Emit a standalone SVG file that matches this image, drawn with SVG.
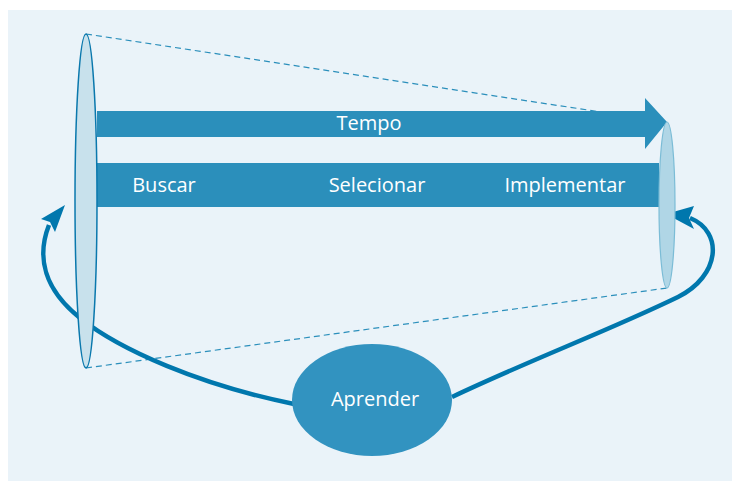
<svg xmlns="http://www.w3.org/2000/svg" width="732" height="481" viewBox="0 0 732 481">
<defs>
<style>
.lbl{font-family:"Open Sans","Noto Sans",sans-serif;font-size:20px;fill:#ffffff}
.bar{fill:#2b8fbb}
.dash{stroke:#2b8fbb;stroke-width:1.2;stroke-dasharray:6 4;fill:none}
.loop{stroke:#0077ad;stroke-width:4.5;fill:none}
.head{fill:#0077ad}
</style>
</defs>
<rect x="8" y="10" width="724" height="471" fill="#eaf3f9"/>
<g id="connectors">
<line class="dash" x1="86" y1="34" x2="667" y2="122"/>
<line class="dash" x1="86" y1="368" x2="667" y2="288"/>
<path class="loop" d="M294,404 C200,385 120,350 80,318 C45,290 36,258 49,225"/>
<polygon class="head" points="65,205 55,232 50,222 41,219"/>
<path class="loop" d="M452,397 C530,360 610,330 678,297 C720,276 724,232 690,218"/>
<polygon class="head" points="666,214 694,206 689,218 694,229"/>
</g>
<g id="tempo">
<polygon class="bar" points="97,111 645,111 645,98 667,122 645,149 645,137 97,137"/>
<text class="lbl" x="369" y="130" text-anchor="middle">Tempo</text>
</g>
<g id="fases">
<rect class="bar" x="97" y="163" width="562" height="44"/>
<text class="lbl" x="164" y="192" text-anchor="middle">Buscar</text>
<text class="lbl" x="377" y="192" text-anchor="middle">Selecionar</text>
<text class="lbl" x="565" y="192" text-anchor="middle">Implementar</text>
</g>
<g id="lente-esquerda">
<ellipse cx="86" cy="201" rx="11" ry="167" fill="#c8e1ec" stroke="#0a78ad" stroke-width="1.5"/>
</g>
<g id="lente-direita">
<ellipse cx="667" cy="205" rx="8" ry="83" fill="#b0d6e6" stroke="#7bbcd6" stroke-width="1.2"/>
</g>
<g id="aprender">
<ellipse cx="372" cy="400" rx="80" ry="56" fill="#3293c0"/>
<text class="lbl" x="375" y="406" text-anchor="middle">Aprender</text>
</g>
</svg>
